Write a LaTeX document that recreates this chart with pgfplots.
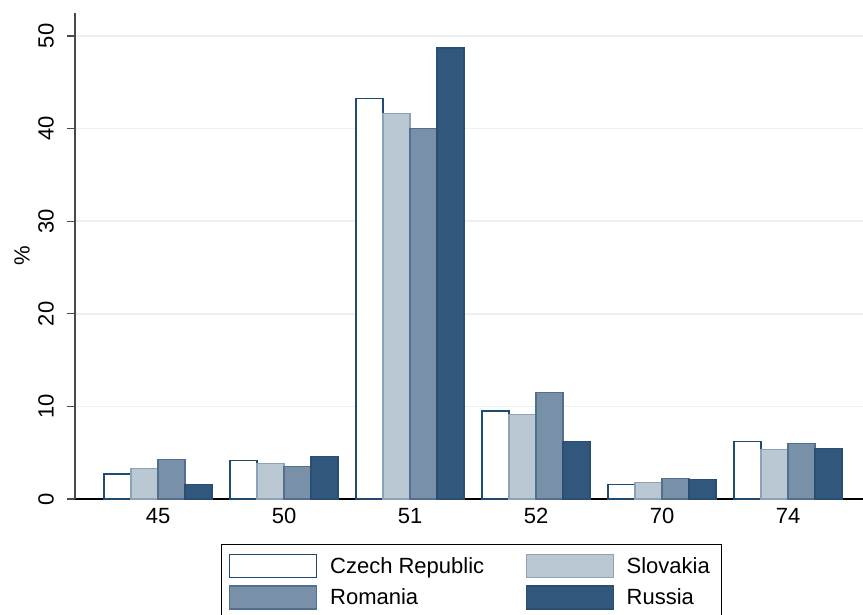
\documentclass[border=0pt]{standalone}
\usepackage{fontspec}
\setmainfont{Liberation Sans}
\usepackage{pgfplots}
\pgfplotsset{compat=1.18}
\definecolor{czdraw}{HTML}{1F4B73}
\definecolor{skfill}{HTML}{BAC8D3}
\definecolor{skdraw}{HTML}{8CA2B6}
\definecolor{rofill}{HTML}{7891A8}
\definecolor{rodraw}{HTML}{52708E}
\definecolor{rufill}{HTML}{31587C}
\definecolor{rudraw}{HTML}{2A4E72}
\definecolor{gridc}{HTML}{EAF1F3}
\definecolor{ygray}{HTML}{4A4A4A}
\pgfplotsset{
  mybar/.style={ybar, bar width=0.2143, line width=1.1bp,
    legend image code/.code={\draw[##1, line width=1.1bp] (0bp,-11.5bp) rectangle (87bp,11.5bp);}},
}
\begin{document}
\begin{tikzpicture}[font=\fontsize{22bp}{26bp}\selectfont]
\begin{axis}[
  at={(75bp,116bp)}, anchor=south west,
  scale only axis, width=788bp, height=486bp,
  xmin=-0.659, xmax=5.595, ymin=0, ymax=52.48,
  axis lines=left, axis line style={-},
  x axis line style={black, line width=1.4bp},
  y axis line style={draw=ygray, line width=1.4bp},
  xtick={0,...,5}, xticklabels={45,50,51,52,70,74},
  ytick={0,10,...,50},
  /pgf/number format/assume math mode=true,
  x tick style={draw=none},
  y tick style={draw=ygray, line width=1.3bp},
  tick align=outside, major tick length=8bp,
  ymajorgrids, grid style={draw=gridc, line width=1.6bp},
  xticklabel style={inner ysep=1bp},
  yticklabel style={rotate=90, anchor=south, inner ysep=13bp},
  ylabel={\%},
  ylabel style={at={(axis description cs:-0.0673,0.5)}, anchor=center},
  legend columns=2,
  legend cell align=left,
  legend style={at={(axis description cs:0.1853,-0.0926)}, anchor=north west,
    draw=black, line width=1.1bp, inner xsep=7.5bp, inner ysep=8bp,
    row sep=5bp,
    nodes={inner xsep=4.5bp, inner ysep=4.6bp},
    /tikz/every odd column/.append style={column sep=8.5bp},
    /tikz/every even column/.append style={column sep=36.8bp}},
]
\addplot[mybar, bar shift=-0.3214, fill=white, draw=czdraw] coordinates {(0,2.7) (1,4.2) (2,43.2) (3,9.5) (4,1.6) (5,6.25)};
\addlegendentry{Czech Republic}
\addplot[mybar, bar shift=-0.1071, fill=skfill, draw=skdraw] coordinates {(0,3.3) (1,3.85) (2,41.65) (3,9.1) (4,1.8) (5,5.3)};
\addlegendentry{Slovakia}
\addplot[mybar, bar shift=0.1071, fill=rofill, draw=rodraw] coordinates {(0,4.3) (1,3.5) (2,40.0) (3,11.5) (4,2.2) (5,6.0)};
\addlegendentry{Romania}
\addplot[mybar, bar shift=0.3214, fill=rufill, draw=rudraw] coordinates {(0,1.6) (1,4.6) (2,48.7) (3,6.2) (4,2.15) (5,5.5)};
\addlegendentry{Russia}
\end{axis}
\pgfresetboundingbox
\useasboundingbox (0,0) rectangle (863bp,615bp);
\end{tikzpicture}
\end{document}
